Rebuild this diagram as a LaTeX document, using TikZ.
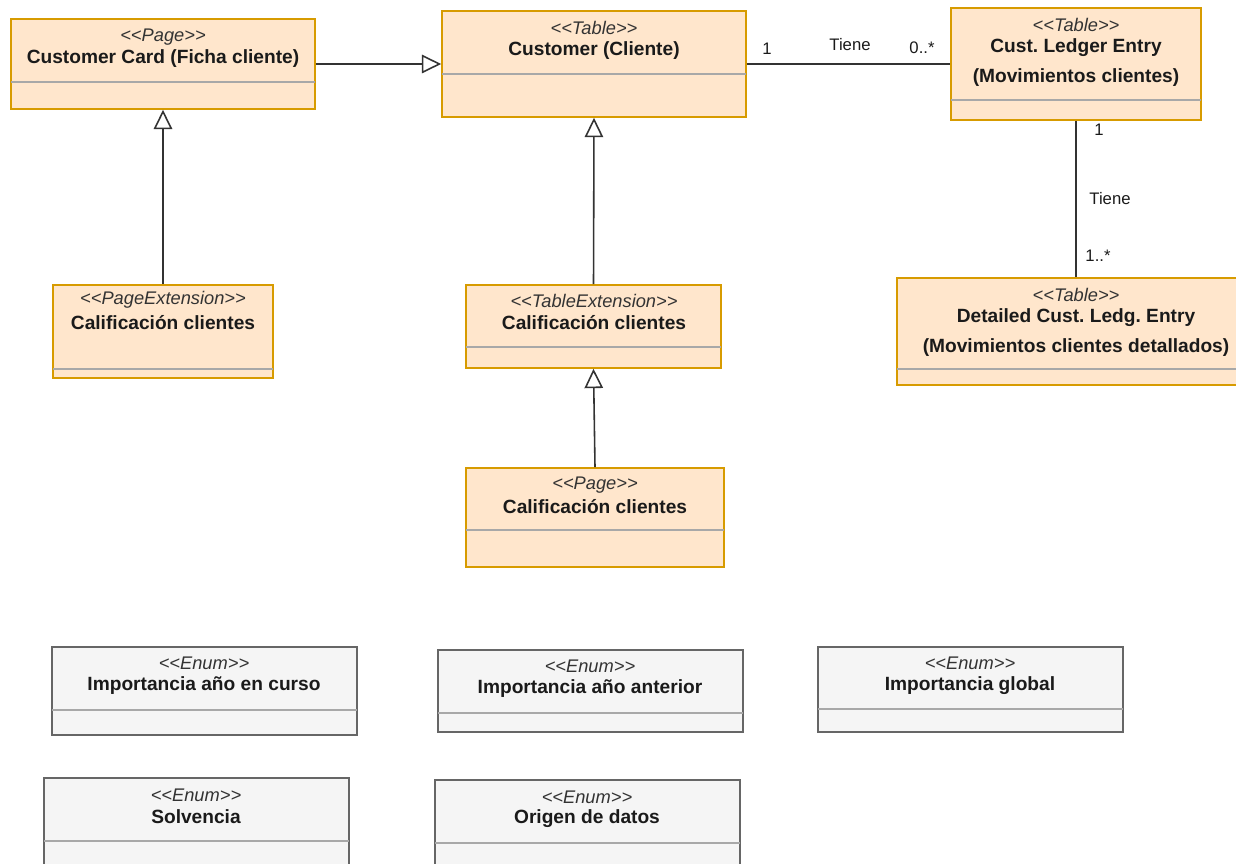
\documentclass[tikz,border=0pt]{standalone}
\usepackage{fontspec}
\setmainfont{Liberation Sans}
\usetikzlibrary{arrows.meta,positioning,fit}
\frenchspacing

\definecolor{tfill}{HTML}{FFE6CC}
\definecolor{tborder}{HTML}{D79B00}
\definecolor{efill}{HTML}{F5F5F5}
\definecolor{eborder}{HTML}{666666}
\definecolor{sepgray}{HTML}{A8A8A8}
\definecolor{linecol}{HTML}{333333}
\definecolor{stcol}{HTML}{333333}
\definecolor{titcol}{HTML}{1A1A1A}

\newcommand{\stereo}[1]{<\kern0pt<#1>\kern0pt>}

\tikzset{
  tbox/.style={draw=tborder, fill=tfill, line width=0.9pt, inner sep=0pt},
  ebox/.style={draw=eborder, fill=efill, line width=0.9pt, inner sep=0pt},
  sepline/.style={draw=sepgray, line width=0.9pt},
  sttext/.style={font=\fontsize{10.4}{12}\selectfont\itshape, text=stcol, inner sep=0pt},
  titletext/.style={font=\fontsize{10.9}{13}\selectfont\bfseries, text=titcol, inner sep=0pt},
  inherit/.style={draw=linecol, line width=0.9pt, -{Triangle[open, length=11pt, width=10.5pt]}},
  assoc/.style={draw=linecol, line width=0.9pt},
  mult/.style={font=\fontsize{9.5}{11}\selectfont, text=titcol, inner sep=0pt},
}

\begin{document}
\begin{tikzpicture}[x=0.02cm, y=-0.02cm]
\useasboundingbox (0,0) rectangle (1236,864);

% Pages and tables
\node[tbox, fit={(11,19) (315,109)}] (card) {};
\draw[sepline] (11,82) -- (315,82);
\node[sttext] (card-s) at (163,37) {\stereo{Page}};
\node[titletext] (card-t) at (163,59) {Customer Card (Ficha cliente)};

\node[tbox, fit={(442,11) (746,117)}] (cust) {};
\draw[sepline] (442,74) -- (746,74);
\node[sttext] (cust-s) at (594,28) {\stereo{Table}};
\node[titletext] (cust-t) at (594,51) {Customer (Cliente)};

\node[tbox, fit={(951,8) (1201,120)}] (ledger) {};
\draw[sepline] (951,100) -- (1201,100);
\node[sttext] (ledger-s) at (1076,25) {\stereo{Table}};
\node[titletext] (ledger-t1) at (1076,48) {Cust. Ledger Entry};
\node[titletext] (ledger-t2) at (1076,78) {(Movimientos clientes)};

\node[tbox, fit={(897,278) (1255,385)}] (detail) {};
\draw[sepline] (897,369) -- (1255,369);
\node[sttext] (detail-s) at (1076,295) {\stereo{Table}};
\node[titletext] (detail-t1) at (1076,318) {Detailed Cust. Ledg. Entry};
\node[titletext] (detail-t2) at (1076,348) {(Movimientos clientes detallados)};

\node[tbox, fit={(53,285) (273,378)}] (pext) {};
\draw[sepline] (53,369) -- (273,369);
\node[sttext] (pext-s) at (163,300) {\stereo{PageExtension}};
\node[titletext] (pext-t) at (163,323) {Calificación clientes};

\node[tbox, fit={(466,285) (721,368)}] (text) {};
\draw[sepline] (466,347) -- (721,347);
\node[sttext] (text-s) at (594,301) {\stereo{TableExtension}};
\node[titletext] (text-t) at (594,323) {Calificación clientes};

\node[tbox, fit={(466,468) (724,567)}] (pcal) {};
\draw[sepline] (466,530) -- (724,530);
\node[sttext] (pcal-s) at (595,485) {\stereo{Page}};
\node[titletext] (pcal-t) at (595,507) {Calificación clientes};

% Enums
\node[ebox, fit={(52,647) (357,735)}] (curso) {};
\draw[sepline] (52,710) -- (357,710);
\node[sttext] (curso-s) at (204,663) {\stereo{Enum}};
\node[titletext] (curso-t) at (204,686) {Importancia año en curso};

\node[ebox, fit={(438,650) (743,732)}] (anterior) {};
\draw[sepline] (438,713) -- (743,713);
\node[sttext] (anterior-s) at (590,666) {\stereo{Enum}};
\node[titletext] (anterior-t) at (590,689) {Importancia año anterior};

\node[ebox, fit={(818,647) (1123,732)}] (global) {};
\draw[sepline] (818,709) -- (1123,709);
\node[sttext] (global-s) at (970,663) {\stereo{Enum}};
\node[titletext] (global-t) at (970,686) {Importancia global};

\node[ebox, fit={(44,778) (349,880)}] (solv) {};
\draw[sepline] (44,841) -- (349,841);
\node[sttext] (solv-s) at (196,795) {\stereo{Enum}};
\node[titletext] (solv-t) at (196,817) {Solvencia};

\node[ebox, fit={(435,780) (740,880)}] (origen) {};
\draw[sepline] (435,843) -- (740,843);
\node[sttext] (origen-s) at (587,797) {\stereo{Enum}};
\node[titletext] (origen-t) at (587,819) {Origen de datos};

% Inheritance
\draw[inherit] (card.east) -- (card.east -| cust.west);
\draw[inherit] (pext.north) -- (card.south);
\draw[inherit] (text.north) -- (cust.south);
\draw[inherit] (pcal.north) -- (text.south);

% Associations
\draw[assoc] (cust.east) -- (cust.east -| ledger.west);
\node[mult] (m1) at (767,49) {1};
\node[mult] (m2) at (850,45) {Tiene};
\node[mult] (m3) at (922,48) {0..*};

\draw[assoc] (ledger.south) -- (ledger.south |- detail.north);
\node[mult] (m4) at (1099,130) {1};
\node[mult] (m5) at (1110,199) {Tiene};
\node[mult] (m6) at (1098,256) {1..*};
\end{tikzpicture}
\end{document}
